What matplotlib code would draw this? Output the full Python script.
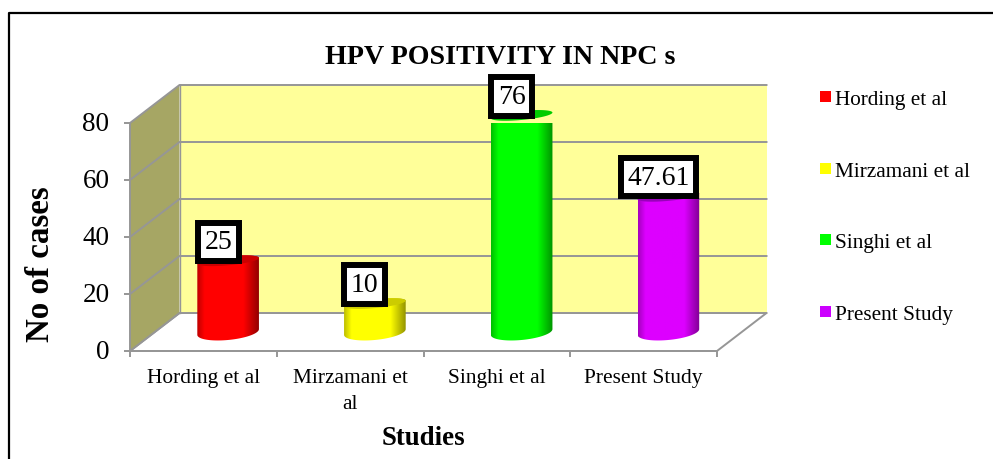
"""
HPV positivity in NPC - 3D style cylinder chart
"""
import numpy as np
import matplotlib
matplotlib.use('Agg')
import matplotlib.pyplot as plt
from matplotlib.lines import Line2D
from matplotlib.patches import Patch, Polygon
from matplotlib.transforms import ScaledTranslation

# -- Data ----------------------------------------------------------------------
studies = ["Hording et al", "Mirzamani et al", "Singhi et al", "Present Study"]
tick_labels = ["Hording et al", "Mirzamani et\nal", "Singhi et al", "Present Study"]
values = [25, 10, 76, 47.61]
value_labels = ["25", "10", "76", "47.61"]
y_ticks = [0, 20, 40, 60, 80]

# -- Palette -------------------------------------------------------------------
COLORS = ["#FF0000", "#FFFF00", "#00FF00", "#DD00FF"]
CAPS = ["#CC0000", "#CCCC00", "#00CC00", "#9900BB"]
LEGEND_COLORS = ["#FF0000", "#FFFF00", "#00FF00", "#CC00FF"]
COL_WALL = "#FFFF99"
COL_SIDE = "#A6A664"
COL_GRID = "#969696"
FONT = "Liberation Serif"

W, H = 993, 460
plt.rcParams['font.family'] = FONT

fig = plt.figure(figsize=(W / 100, H / 100), dpi=100, facecolor="white")
ax = fig.add_axes([130 / W, (H - 352) / H, 587 / W, 228 / H])
ax.patch.set_visible(False)
ax.set_xlim(-0.5, 3.5)
ax.set_ylim(0, 80)

# depth of the 3D box, in data units
DX = 49.5 / 146.75
DY = 38 / 2.85


def proj(x, y, d):
    return (x + d * DX, y + d * DY)


XL, XR = -0.5, 3.5

# -- Walls ---------------------------------------------------------------------
ax.add_patch(Polygon([proj(XL, 0, 0), proj(XR, 0, 0), proj(XR, 0, 1), proj(XL, 0, 1)],
                     facecolor="white", edgecolor=COL_GRID, lw=1.4, clip_on=False, zorder=1))
ax.add_patch(Polygon([proj(XL, 0, 1), proj(XR, 0, 1), proj(XR, 80, 1), proj(XL, 80, 1)],
                     facecolor=COL_WALL, edgecolor="none", clip_on=False, zorder=1))
ax.add_patch(Polygon([proj(XL, 0, 0), proj(XL, 0, 1), proj(XL, 80, 1), proj(XL, 80, 0)],
                     facecolor=COL_SIDE, edgecolor="none", clip_on=False, zorder=1))
for t in y_ticks:
    pts = [proj(XL, t, 0), proj(XL, t, 1), proj(XR, t, 1)]
    ax.plot(*zip(*pts), color=COL_GRID, lw=1.4, clip_on=False, zorder=1.5)
ax.plot(*zip(proj(XL, 0, 1), proj(XL, 80, 1)), color=COL_GRID, lw=1.0,
        clip_on=False, zorder=1.5)

# -- Cylinders -----------------------------------------------------------------
R = 0.21        # half width, categories
EH = 2.8        # base ellipse half height, value units
CAP_EH = 1.6    # top ellipse half height
TILT = 1.0      # left side sits lower than right side
shade = np.interp(np.linspace(0, 1, 120), [0, 0.12, 0.75, 1], [0.75, 1, 1, 0.58])

for i, (val, col, cap) in enumerate(zip(values, COLORS, CAPS)):
    cx, y0 = proj(i, 0, 0.5)
    y1 = y0 + val
    tt = np.linspace(np.pi, 2 * np.pi, 50)
    low = np.c_[cx + R * np.cos(tt), y0 + EH * np.sin(tt) + TILT * np.cos(tt)]
    tt2 = np.linspace(0, np.pi, 50)
    up = np.c_[cx + R * np.cos(tt2), y1 + CAP_EH * np.sin(tt2) + TILT * np.cos(tt2)]
    body = Polygon(np.r_[low, up], facecolor="none", edgecolor="none",
                   clip_on=False, zorder=3)
    ax.add_patch(body)
    rgb = np.array(matplotlib.colors.to_rgb(col))
    img = (shade[:, None] * rgb)[None, :, :]
    im = ax.imshow(img, extent=(cx - R, cx + R, y0 - 5, y1 + 5), aspect='auto',
                   origin='lower', zorder=3)
    im.set_clip_path(body)

    tt3 = np.linspace(0, 2 * np.pi, 80)
    ax.add_patch(Polygon(np.c_[cx + R * np.cos(tt3),
                               y1 + CAP_EH * np.sin(tt3) + TILT * np.cos(tt3)],
                         facecolor=cap, edgecolor="none", clip_on=False, zorder=3.5))

    # value box sits up and to the left of the cylinder top
    ax.annotate(value_labels[i], xy=(cx, y1), xytext=(-10 * 0.72, 19 * 0.72),
                textcoords='offset points', ha='center', va='center',
                fontsize=20, color="black", zorder=5, annotation_clip=False,
                bbox=dict(boxstyle='square,pad=0.24', facecolor="white",
                          edgecolor="black", linewidth=4.3))

ax.set_xlim(-0.5, 3.5)
ax.set_ylim(0, 80)

# -- Axes ----------------------------------------------------------------------
for side in ('top', 'right'):
    ax.spines[side].set_visible(False)
for side in ('left', 'bottom'):
    ax.spines[side].set_color(COL_GRID)
    ax.spines[side].set_linewidth(1.4)

ax.set_yticks(y_ticks)
ax.tick_params(axis='y', labelsize=19.5, length=4, width=1.4, color=COL_GRID, pad=10.8)
# y labels sit a little above their ticks in the original
nudge = ScaledTranslation(0, 2 / 72, fig.dpi_scale_trans)
for lab in ax.get_yticklabels():
    lab.set_transform(lab.get_transform() + nudge)
ax.set_xticks(np.arange(-0.5, 4, 1))
ax.set_xticklabels([])
ax.set_xticks(range(4), tick_labels, minor=True)
ax.tick_params(axis='x', which='major', length=4, width=1.4, color=COL_GRID)
ax.tick_params(axis='x', which='minor', length=0, labelsize=15.4, pad=12)
for lab in ax.get_xticklabels(minor=True):
    lab.set_linespacing(1.5)

fig.text(41 / W, 1 - 264 / H, "No of cases", rotation=90, ha='center', va='center',
         fontsize=23.8, fontweight='bold')
fig.text(423 / W, 1 - 439 / H, "Studies", ha='center', va='center',
         fontsize=19.4, fontweight='bold')
fig.text(500 / W, 1 - 58 / H, "HPV POSITIVITY IN NPC s", ha='center', va='center',
         fontsize=20.2, fontweight='bold')

# -- Legend --------------------------------------------------------------------
handles = [Patch(facecolor=c, edgecolor="none") for c in LEGEND_COLORS]
fig.legend(handles, studies, loc='upper left', bbox_to_anchor=(814 / W, 1 - 85 / H),
           frameon=False, fontsize=15.3, labelspacing=2.47, handlelength=0.52,
           handleheight=0.42, handletextpad=0.15, borderpad=0.3, borderaxespad=0)

# -- Outer frame, cut off on the right and bottom -------------------------------
fig.add_artist(Line2D([9 / W, 9 / W, 1], [0, 1 - 14 / H, 1 - 14 / H],
                      transform=fig.transFigure, color="black", lw=1.6))

fig.savefig("out.png", dpi=100, facecolor="white")
plt.close(fig)
